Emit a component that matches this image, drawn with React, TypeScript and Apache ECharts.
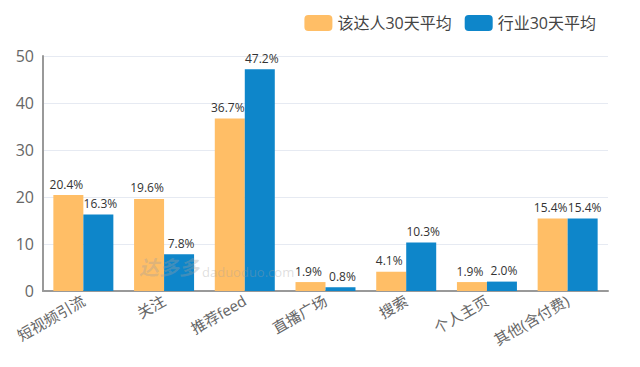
import React, { useEffect, useRef } from "react";
import * as echarts from "echarts";

const categories = ["短视频引流", "关注", "推荐feed", "直播广场", "搜索", "个人主页", "其他(含付费)"];
const talentValues = [20.4, 19.6, 36.7, 1.9, 4.1, 1.9, 15.4];
const industryValues = [16.3, 7.8, 47.2, 0.8, 10.3, 2.0, 15.4];
const seriesNames = ["该达人30天平均", "行业30天平均"];

const FONT = "'Open Sans', 'Noto Sans CJK SC', sans-serif";

export default function App() {
  const ref = useRef<HTMLDivElement>(null);
  useEffect(() => {
    const chart = echarts.init(ref.current!, undefined, { renderer: "svg" });
    const makeLabel = (dx: number) => ({
      show: true,
      position: "top" as const,
      formatter: (p: any) => `${p.value.toFixed(1)}%`,
      color: "#333",
      fontSize: 12,
      fontFamily: FONT,
      distance: 5,
      offset: [dx, 0],
    });
    chart.setOption({
      animation: false,
      textStyle: { fontFamily: FONT },
      legend: {
        right: 39,
        top: 10,
        itemWidth: 28,
        itemHeight: 16,
        itemGap: 13,
        textStyle: { fontSize: 16, color: "#444", fontFamily: FONT },
        data: seriesNames,
      },
      grid: { left: 43, right: 32, top: 56, bottom: 76 },
      xAxis: {
        type: "category",
        data: categories,
        axisLine: { lineStyle: { color: "#999", width: 2 } },
        axisTick: { show: false },
        axisLabel: { rotate: 30, color: "#666", fontSize: 15, fontFamily: FONT, interval: 0, margin: 8 },
      },
      yAxis: {
        type: "value",
        min: 0,
        max: 50,
        interval: 10,
        axisLine: { show: true, lineStyle: { color: "#999", width: 2 } },
        axisTick: { show: false },
        splitLine: { lineStyle: { color: "#e6eaf2" } },
        axisLabel: { color: "#666", fontSize: 16, fontFamily: FONT, margin: 9 },
      },
      graphic: [
        {
          type: "text",
          left: 139,
          top: 257,
          z: 100,
          style: {
            text: "达多多",
            fontSize: 20,
            fontWeight: "bold",
            fontStyle: "italic",
            fill: "rgba(160,160,160,0.35)",
            fontFamily: FONT,
          },
        },
        {
          type: "text",
          left: 202,
          top: 265,
          z: 100,
          style: {
            text: "daduoduo.com",
            fontSize: 13,
            fill: "rgba(160,160,160,0.35)",
            fontFamily: FONT,
          },
        },
      ],
      series: [
        {
          name: seriesNames[0],
          type: "bar",
          data: talentValues,
          barWidth: 30,
          barGap: "0%",
          itemStyle: { color: "#FFBE66" },
          label: makeLabel(-2),
        },
        {
          name: seriesNames[1],
          type: "bar",
          data: industryValues,
          barWidth: 30,
          barGap: "0%",
          itemStyle: { color: "#0E86CA" },
          label: makeLabel(2),
        },
      ],
    });
    return () => chart.dispose();
  }, []);
  return <div ref={ref} style={{ position: "absolute", left: 0, top: 0, width: 640, height: 367 }} />;
}
